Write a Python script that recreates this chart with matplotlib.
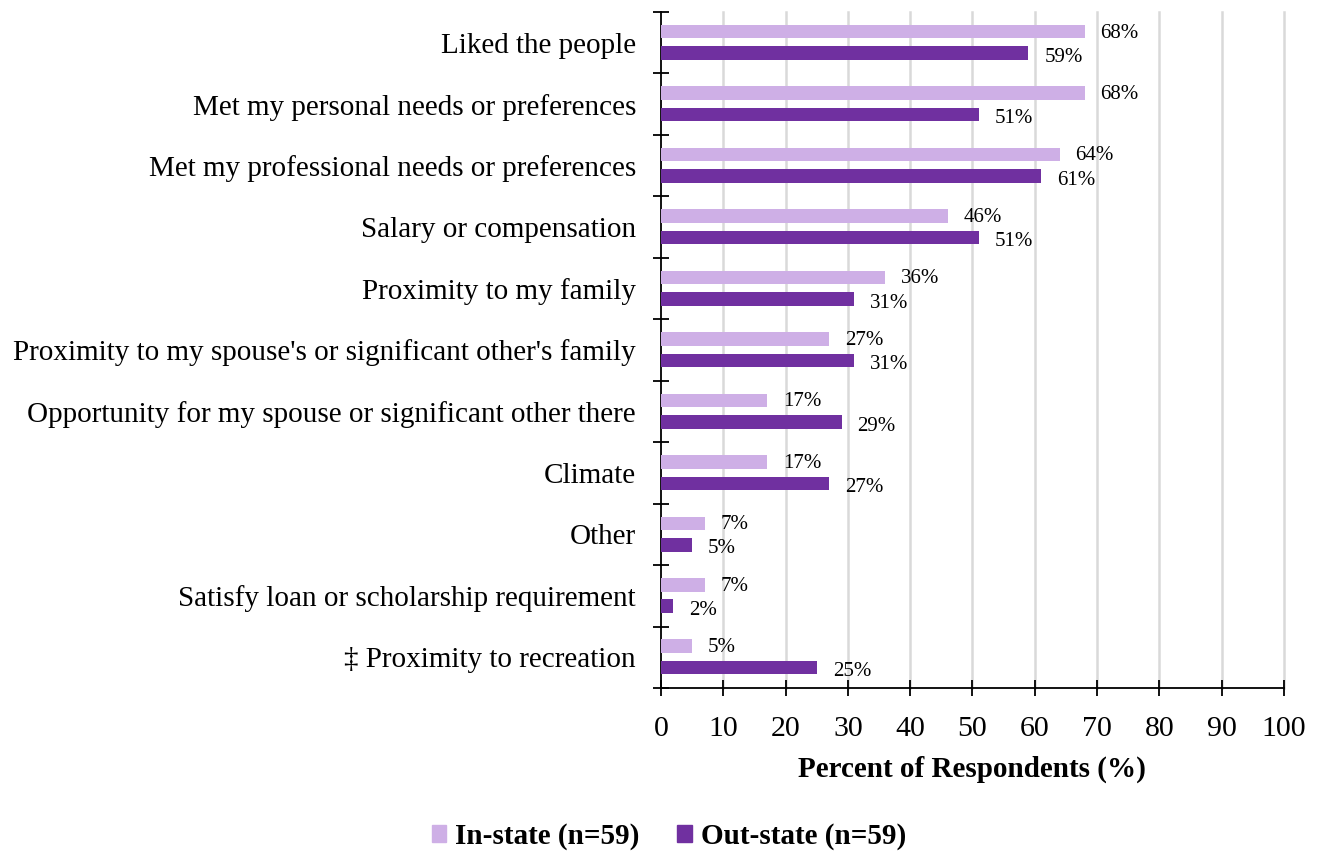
import matplotlib.pyplot as plt
from matplotlib.patches import Patch
import numpy as np

plt.rcParams['font.family'] = ['Liberation Serif', 'DejaVu Serif']

categories = [
    "Liked the people",
    "Met my personal needs or preferences",
    "Met my professional needs or preferences",
    "Salary or compensation",
    "Proximity to my family",
    "Proximity to my spouse's or significant other's family",
    "Opportunity for my spouse or significant other there",
    "Climate",
    "Other",
    "Satisfy loan or scholarship requirement",
    "\u2021 Proximity to recreation",
]
in_state = [68, 68, 64, 46, 36, 27, 17, 17, 7, 7, 5]
out_state = [59, 51, 61, 51, 31, 31, 29, 27, 5, 2, 25]
x_ticks = list(range(0, 101, 10))

IN_COLOR = "#CEAFE6"
OUT_COLOR = "#7030A0"

fig = plt.figure(figsize=(13.19, 8.52), dpi=100)
ax = fig.add_axes([0.5011, 0.1925, 0.4723, 0.7934])

y = np.arange(len(categories))
bar_h = 0.22
ax.barh(y - 0.18, in_state, height=bar_h, color=IN_COLOR, zorder=3)
ax.barh(y + 0.17, out_state, height=bar_h, color=OUT_COLOR, zorder=3)

# value labels sit a fixed distance past the end of each bar
for yi, v in zip(y - 0.18, in_state):
    ax.annotate(f"{v}%", (v, yi), xytext=(11.5, -1), textcoords="offset points",
                ha="left", va="center", fontsize=15)
for yi, v in zip(y + 0.17, out_state):
    ax.annotate(f"{v}%", (v, yi), xytext=(11.5, -3), textcoords="offset points",
                ha="left", va="center", fontsize=15)

ax.set_xlim(0, 100)
ax.set_ylim(len(categories) - 0.5, -0.5)

# category boundaries get the tick marks, centres get the names
ax.set_yticks(np.arange(len(categories) + 1) - 0.5)
ax.set_yticklabels([])
ax.set_yticks(y, minor=True)
ax.set_yticklabels(categories, minor=True, fontsize=21)
ax.tick_params(axis="y", which="major", direction="inout", length=12, width=1.3)
ax.tick_params(axis="y", which="minor", length=0, pad=18)

ax.set_xticks(x_ticks)
ax.set_xticklabels([str(t) for t in x_ticks], fontsize=21.5)
ax.tick_params(axis="x", direction="inout", length=12, width=1.3, pad=14)

for t in x_ticks[1:]:
    ax.axvline(t, color="#d9d9d9", lw=1.8, zorder=1, clip_on=False)

for s in ["top", "right"]:
    ax.spines[s].set_visible(False)
ax.spines["left"].set_linewidth(1.3)
ax.spines["bottom"].set_linewidth(1.3)

ax.set_xlabel("Percent of Respondents (%)", fontsize=21, fontweight="bold", labelpad=10)

handles = [Patch(color=IN_COLOR, label="In-state (n=59)"),
           Patch(color=OUT_COLOR, label="Out-state (n=59)")]
fig.legend(handles=handles, loc="center", bbox_to_anchor=(0.507, 0.018), ncol=2,
           frameon=False, prop={"weight": "bold", "size": 21},
           handlelength=0.5, handleheight=0.5, handletextpad=0.3, columnspacing=1.3)

fig.savefig("out.png", dpi=100)
